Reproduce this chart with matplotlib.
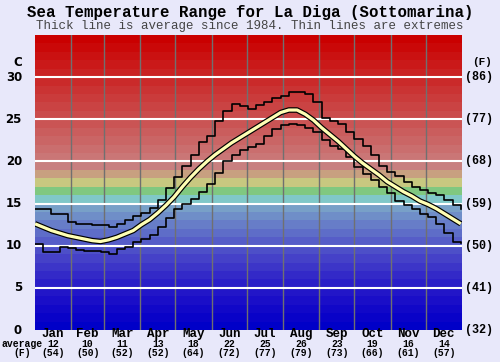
import numpy as np
import matplotlib
matplotlib.use('Agg')
import matplotlib.pyplot as plt
import matplotlib.transforms as mtransforms

# weekly readings (day of year) off the chart, deg C
days = list(range(0, 365, 7))
avg_temp = [12.6, 12.2, 11.8, 11.5, 11.2, 11.0, 10.8, 10.6, 10.5, 10.7,
            11.0, 11.4, 11.8, 12.5, 13.1, 13.9, 14.8, 15.8, 17.0, 18.1,
            19.1, 20.0, 20.8, 21.5, 22.2, 22.8, 23.4, 24.0, 24.6, 25.2,
            25.8, 26.1, 26.1, 25.6, 24.9, 24.0, 23.2, 22.4, 21.5, 20.6,
            19.8, 19.1, 18.4, 17.6, 17.0, 16.4, 15.9, 15.3, 14.9, 14.4,
            13.8, 13.2, 12.6]
max_temp = [14.3, 14.3, 13.8, 13.8, 12.8, 12.6, 12.6, 12.5, 12.5, 12.2,
            12.6, 13.0, 13.5, 13.9, 14.5, 15.4, 16.8, 18.2, 19.5, 20.8,
            22.3, 23.0, 24.8, 26.0, 26.8, 26.6, 26.2, 26.7, 27.0, 27.5,
            27.8, 28.2, 28.2, 28.0, 27.0, 25.2, 24.8, 24.5, 23.5, 22.7,
            21.8, 20.8, 19.5, 18.8, 18.3, 17.6, 17.0, 16.6, 16.3, 16.0,
            15.4, 14.8, 14.4]
min_temp = [10.2, 9.3, 9.3, 9.8, 9.7, 9.5, 9.4, 9.4, 9.3, 9.0,
            9.6, 9.8, 10.4, 10.8, 11.3, 12.2, 13.3, 14.4, 15.0, 15.6,
            16.4, 17.3, 18.6, 20.0, 20.8, 21.3, 21.7, 22.1, 23.0, 23.8,
            24.3, 24.5, 24.3, 24.0, 23.5, 22.5, 21.8, 21.5, 20.5, 19.3,
            18.5, 17.8, 17.0, 16.2, 15.3, 14.8, 14.4, 13.8, 13.4, 12.6,
            11.5, 10.5, 10.3]

months = ['Jan', 'Feb', 'Mar', 'Apr', 'May', 'Jun', 'Jul', 'Aug', 'Sep', 'Oct', 'Nov', 'Dec']
month_days = [31, 28, 31, 30, 31, 30, 31, 31, 30, 31, 30, 31]
month_avg_c = [12, 10, 11, 13, 18, 22, 25, 26, 23, 19, 16, 14]
month_avg_f = [54, 50, 52, 52, 64, 72, 77, 79, 73, 66, 61, 57]
c_ticks = [0, 5, 10, 15, 20, 25, 30]
f_ticks = [32, 41, 50, 59, 68, 77, 86]


def band_color(t):
    # 1 degree colour bands like the original
    fixed = {15: (128, 200, 200), 16: (128, 200, 128), 17: (200, 200, 128),
             18: (200, 160, 128), 19: (200, 128, 128)}
    if t in fixed:
        r, g, b = fixed[t]
    elif t < 15:
        r = 120 * t / 14
        g = 160 * (t / 14) ** 1.6
        b = 200
    else:
        r = 202
        g = max(0, 118 * (34 - t) / 14)
        b = g
    return (r / 255, g / 255, b / 255)


bg = '#e8e8fa'
fig = plt.figure(figsize=(5, 3.62), dpi=100, facecolor=bg)
ax = fig.add_axes([35 / 500, 32 / 362, 427 / 500, 295 / 362])

for t in range(35):
    ax.axhspan(t, t + 1, color=band_color(t), lw=0, zorder=0)

edges = np.cumsum([0] + month_days)
for e in edges[1:-1]:
    ax.axvline(e, color='#707070', lw=1, zorder=1)
for c in c_ticks[1:]:
    ax.axhline(c, color='white', lw=1.5, zorder=1)

ax.step(days, max_temp, where='post', color='black', lw=1.2, zorder=3)
ax.step(days, min_temp, where='post', color='black', lw=1.2, zorder=3)
ax.plot(days, avg_temp, color='black', lw=4.0, zorder=4, solid_capstyle='butt')
ax.plot(days, avg_temp, color='#ffffb4', lw=2.3, zorder=5, solid_capstyle='butt')

ax.set_xlim(0, 365)
ax.set_ylim(0, 35)
ax.set_xticks([])
ax.set_yticks([])
for s in ax.spines.values():
    s.set_visible(False)

def fx(px):
    return px / 500

def fy(py):
    return 1 - py / 362

mono = 'Liberation Mono'
fig.text(0.5, fy(12), 'Sea Temperature Range for La Diga (Sottomarina)',
         ha='center', va='center', family=mono, weight='bold', fontsize=11.3)
fig.text(0.5, fy(26), 'Thick line is average since 1984. Thin lines are extremes',
         ha='center', va='center', family=mono, fontsize=9, color='#444444')

# left celsius labels, right fahrenheit labels
ytr = mtransforms.blended_transform_factory(fig.transFigure, ax.transData)
for c, f in zip(c_ticks, f_ticks):
    fig.text(fx(22), c, str(c), transform=ytr, ha='right', va='center',
             family='DejaVu Sans', weight='bold', fontsize=8.5)
    fig.text(fx(465), c, '(%d)' % f, transform=ytr, ha='left', va='center',
             family=mono, weight='bold', fontsize=8.5)
fig.text(fx(18), fy(62), 'C', ha='center', va='center',
         family='DejaVu Sans', weight='bold', fontsize=8.5)
fig.text(fx(482), fy(62), '(F)', ha='center', va='center',
         family=mono, weight='bold', fontsize=8)

xtr = mtransforms.blended_transform_factory(ax.transData, fig.transFigure)
for i, m in enumerate(months):
    mid = (edges[i] + edges[i + 1]) / 2
    fig.text(mid, fy(334), m, transform=xtr, ha='center', va='center',
             family=mono, weight='bold', fontsize=9)
    fig.text(mid, fy(344), str(month_avg_c[i]), transform=xtr, ha='center', va='center',
             family=mono, weight='bold', fontsize=7)
    fig.text(mid, fy(353), '(%d)' % month_avg_f[i], transform=xtr, ha='center', va='center',
             family=mono, weight='bold', fontsize=7)
fig.text(fx(22), fy(344), 'average', ha='center', va='center', family=mono,
         weight='bold', fontsize=7)
fig.text(fx(22), fy(353), '(F)', ha='center', va='center', family=mono,
         weight='bold', fontsize=7)

fig.savefig('out.png', dpi=100, facecolor=bg)
